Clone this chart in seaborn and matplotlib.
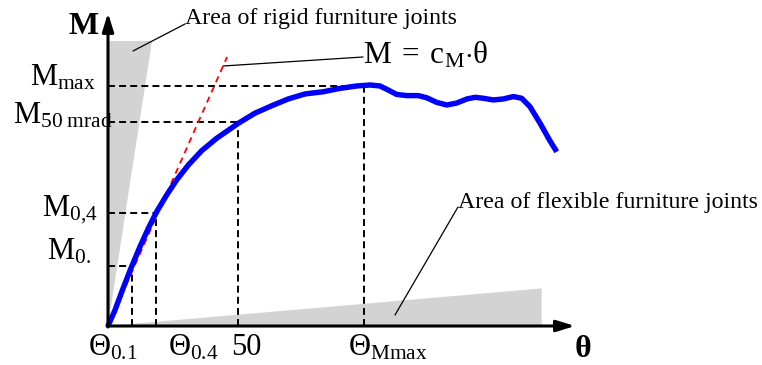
import matplotlib
matplotlib.use("Agg")
import matplotlib.pyplot as plt
import seaborn as sns
import pandas as pd

# ---------------- data (theta in mrad, M in % of Mmax) ----------------
theta_curve = [0.0, 2.7, 5.3, 8.8, 12.3, 15.5, 18.7, 22.6, 26.4, 30.9, 36.0,
               41.8, 50.1, 56.5, 63.0, 69.3, 75.8, 82.8, 89.2, 95.7, 100.8,
               104.6, 107.8, 111.0, 114.9, 119.3, 122.6, 126.4, 130.3, 134.1,
               138.0, 141.2, 144.3, 148.2, 152.0, 155.9, 159.1, 162.3, 166.2,
               170.0, 172.6]
moment_curve = [0.0, 6.6, 14.2, 23.9, 32.9, 40.5, 47.4, 54.4, 60.6, 66.8, 72.7,
                77.9, 84.1, 88.3, 91.4, 94.2, 96.3, 97.2, 98.6, 99.6, 100.0,
                99.6, 97.9, 96.1, 95.6, 95.6, 94.7, 92.8, 91.7, 92.5,
                94.2, 94.9, 94.5, 93.8, 94.2, 95.2, 94.5, 91.0, 84.1,
                76.8, 72.3]

tangent_theta = [0.0, 45.8]
tangent_M = [0.0, 111.6]

mark_theta = [9.1, 18.3, 50.0, 98.6]
mark_M = [25.0, 47.0, 84.5, 99.6]

rigid_theta = [0.0, 0.0, 16.9]
rigid_M = [0.0, 118.3, 118.3]
flex_theta = [0.0, 166.8, 166.8]
flex_M = [0.0, 15.6, 0.0]

axis_theta_max = 179.6
axis_M_max = 129.9

y_labels = [r"$\mathrm{M}_{\mathrm{max}}$", r"$\mathrm{M}_{\mathrm{50\ mrad}}$",
            r"$\mathrm{M}_{\mathrm{0{,}4}}$", r"$\mathrm{M}_{\mathrm{0.}}$"]
x_labels = [r"$\mathrm{Θ}_{\mathrm{0.1}}$", r"$\mathrm{Θ}_{\mathrm{0.4}}$",
            "50", r"$\mathrm{Θ}_{\mathrm{Mmax}}$"]

# ---------------- style ----------------
sns.set_theme(style="white")
plt.rcParams["font.family"] = ["Liberation Serif", "DejaVu Serif"]
plt.rcParams["text.color"] = "black"
plt.rcParams["mathtext.fontset"] = "custom"
plt.rcParams["mathtext.rm"] = "Liberation Serif"
plt.rcParams["mathtext.it"] = "Liberation Serif:italic"
plt.rcParams["mathtext.bf"] = "Liberation Serif:bold"
plt.rcParams["lines.scale_dashes"] = False

W, H = 762, 365
OX, OY = 108.0, 326.0
SX, SY = 2.6, 2.41

fig = plt.figure(figsize=(W / 100, H / 100), dpi=100)
ax = fig.add_axes([0, 0, 1, 1])
ax.set_xlim(-OX / SX, (W - OX) / SX)
ax.set_ylim((OY - H) / SY, OY / SY)
ax.axis("off")


def px(x, y):
    """pixel position -> data coords (for text placement only)"""
    return (x - OX) / SX, (OY - y) / SY


# gray areas
ax.fill(rigid_theta, rigid_M, color="#d3d3d3", lw=0, zorder=1)
ax.fill(flex_theta, flex_M, color="#d3d3d3", lw=0, zorder=1)

# dashed guide lines
for t, m in zip(mark_theta, mark_M):
    ax.plot([0, t], [m, m], color="black", lw=1.4, dashes=(5, 3.0), zorder=3)
    ax.plot([t, t], [0, m], color="black", lw=1.4, dashes=(5, 3.0), zorder=3)

# tangent line
ax.plot(tangent_theta, tangent_M, color="red", lw=1.3, dashes=(4.5, 3.5), zorder=4)

# main curve
df = pd.DataFrame({"theta": theta_curve, "M": moment_curve})
sns.lineplot(data=df, x="theta", y="M", sort=False, estimator=None, ax=ax,
             color="#0000ff", lw=3.9, zorder=5, solid_joinstyle="round",
             solid_capstyle="butt")

# axes arrows
arr = dict(arrowstyle="-|>,head_length=0.55,head_width=0.17", color="black",
           lw=2.2, mutation_scale=20, shrinkA=0, shrinkB=0)
ax.annotate("", xy=(0, axis_M_max), xytext=(0, -0.4), arrowprops=arr, zorder=7)
ax.annotate("", xy=(axis_theta_max, 0), xytext=(-0.4, 0), arrowprops=arr, zorder=7)

# axis titles
ax.text(*px(99, 34), "M", fontsize=23, fontweight="bold", ha="right", va="baseline")
ax.text(*px(575, 357), "θ", fontsize=23, fontweight="bold", ha="left", va="baseline")

# y labels
y_pos = [(96, 86), (113, 123), (98, 216), (91, 260)]
for lab, (xx, yy) in zip(y_labels, y_pos):
    ax.text(*px(xx, yy), lab, fontsize=22, ha="right", va="baseline", zorder=2)

# x labels
x_pos = [(88, 355), (168, 355), (231, 355), (348, 355)]
for lab, (xx, yy) in zip(x_labels, x_pos):
    ax.text(*px(xx, yy), lab, fontsize=22, ha="left", va="baseline")

# annotations
ax.text(*px(185, 24), "Area of rigid furniture joints", fontsize=17.2,
        ha="left", va="baseline")
ax.plot(*zip(px(133, 51), px(185, 24)), color="black", lw=0.9)

ax.text(*px(363, 64),
        r"$\mathrm{M}\;=\;\mathrm{c}_{\mathrm{M}}{\cdot}\mathrm{θ}$",
        fontsize=22.5, ha="left", va="baseline")
ax.plot(*zip(px(223, 66), px(363, 57)), color="black", lw=0.9)

ax.text(*px(458, 208), "Area of flexible furniture joints", fontsize=17.2,
        ha="left", va="baseline")
ax.plot(*zip(px(395, 315), px(458, 207)), color="black", lw=0.9)

fig.savefig("out.png", dpi=100)
